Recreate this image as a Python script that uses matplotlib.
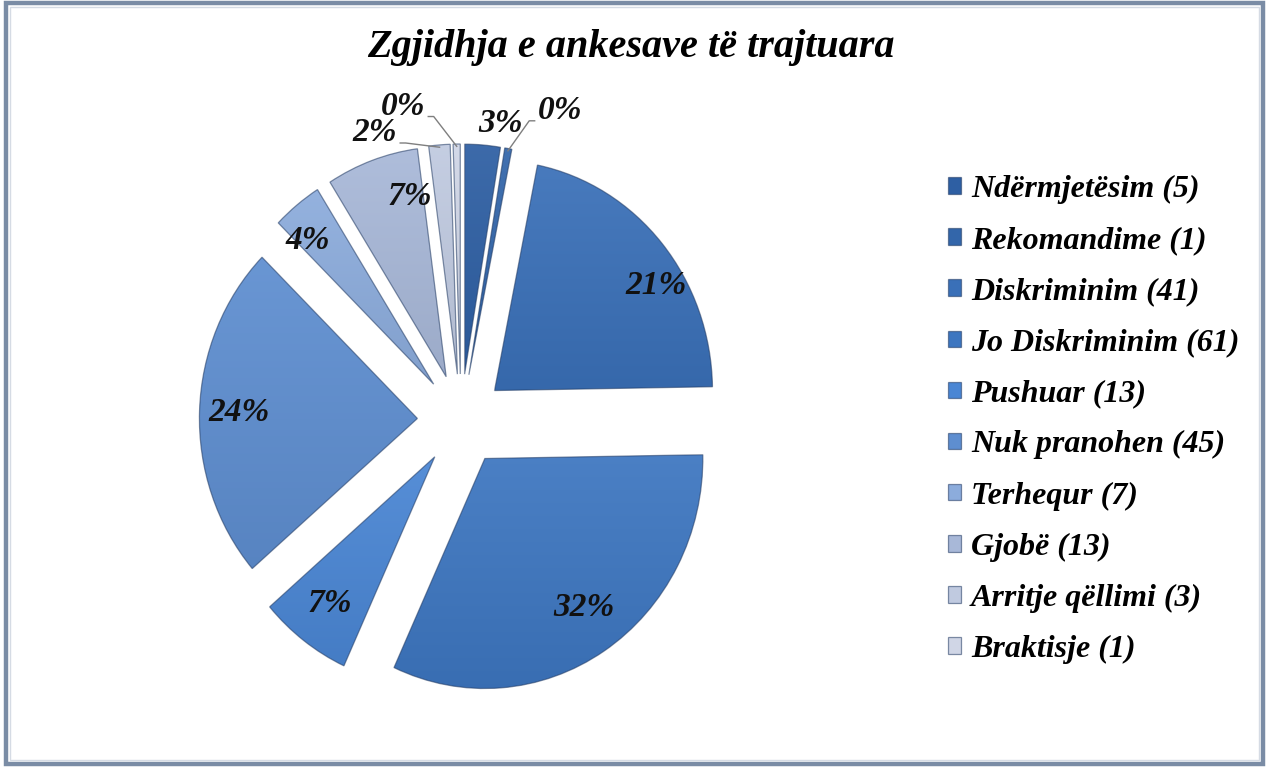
import numpy as np
import matplotlib
matplotlib.use("Agg")
import matplotlib.pyplot as plt
from matplotlib.patches import Rectangle
from matplotlib.colors import to_rgb

plt.rcParams['font.family'] = ['Liberation Serif', 'DejaVu Serif']

# data
categories = ['Ndërmjetësim', 'Rekomandime', 'Diskriminim', 'Jo Diskriminim',
              'Pushuar', 'Nuk pranohen', 'Terhequr', 'Gjobë',
              'Arritje qëllimi', 'Braktisje']
counts = [5, 1, 41, 61, 13, 45, 7, 13, 3, 1]
pct_labels = ['3%', '0%', '21%', '32%', '7%', '24%', '4%', '7%', '2%', '0%']
colors = ['#2E5FA3', '#3366AA', '#3A70B8', '#3D76C0', '#4A86D4',
          '#5E8ED0', '#8CACDC', '#A8B8D8', '#C0CAE0', '#D0D6E6']
legend_labels = [f'{c} ({n})' for c, n in zip(categories, counts)]

explode_frac = 0.2
# label placement: inner labels (radius, angle nudge), outer ones (angle, radius)
inner_pos = {2: (0.87, -8), 3: (0.79, 2), 4: (0.80, 0), 5: (0.82, 0),
             6: (0.85, 4), 7: (0.80, -8)}
outer_pos = {0: (82, 1.30), 1: (71.4, 1.42), 8: (107.5, 1.31), 9: (101, 1.39)}
leaders = [1, 8, 9]

W, H = 1268, 767
fig = plt.figure(figsize=(W / 100, H / 100), dpi=100)

# pie axes: centre at (461, 420) px, 218 px per unit in x, 230 in y
cx, cy, sx, sy = 461, 420, 218, 230
x0, x1, y0, y1 = -2.0, 2.0, -1.5, 1.7
ax = fig.add_axes([(cx + x0 * sx) / W, (H - cy + y0 * sy) / H,
                   (x1 - x0) * sx / W, (y1 - y0) * sy / H])

edge = (0.12, 0.22, 0.38, 0.55)
wedges, _ = ax.pie(counts, colors=colors, startangle=90, counterclock=False,
                   explode=[explode_frac] * len(counts),
                   wedgeprops=dict(edgecolor=edge, linewidth=0.9))

# legend before the wedges get their gradient fill
fig.legend(wedges, legend_labels, loc='upper left',
           bbox_to_anchor=(948 / W, 1 - 175 / H), frameon=False,
           prop=dict(size=23, weight='bold', style='italic'),
           handlelength=0.42, handleheight=0.42, handletextpad=0.3,
           labelspacing=0.69, borderpad=0, borderaxespad=0)

# soft vertical gradient inside each slice
for w, c in zip(wedges, colors):
    base = np.array(to_rgb(c))
    top = base + (1 - base) * 0.07
    bot = base * 0.93
    t = np.linspace(0, 1, 64)[:, None]
    grad = (top * (1 - t) + bot * t)[:, None, :]
    ext = w.get_path().get_extents()
    im = ax.imshow(grad, extent=[ext.x0, ext.x1, ext.y0, ext.y1],
                   aspect='auto', origin='upper', zorder=1, interpolation='bilinear')
    im.set_clip_path(w)
    w.set_facecolor('none')
    w.set_zorder(2)

ax.set_aspect('auto')
ax.set_xlim(x0, x1)
ax.set_ylim(y0, y1)
ax.axis('off')

txt_kw = dict(fontsize=24, fontweight='bold', fontstyle='italic', color='#111111', zorder=4)
for i, w in enumerate(wedges):
    mid = np.deg2rad((w.theta1 + w.theta2) / 2)
    ox, oy = w.center
    if i in inner_pos:
        r, nudge = inner_pos[i]
        a = mid + np.deg2rad(nudge)
        ax.text(ox + r * np.cos(a), oy + r * np.sin(a), pct_labels[i],
                ha='center', va='center', **txt_kw)
    else:
        a, r = outer_pos[i]
        a = np.deg2rad(a)
        tx, ty = r * np.cos(a), r * np.sin(a)
        ax.text(tx, ty, pct_labels[i], ha='center', va='center', **txt_kw)
        if i in leaders:
            tipx = ox + 0.99 * np.cos(mid)
            tipy = oy + 0.99 * np.sin(mid)
            side = 1 if tx > tipx else -1
            lx = tx - side * 0.115
            ly = ty - 0.045
            ex = lx - side * 0.025
            ax.plot([lx, ex, tipx], [ly, ly, tipy], color='#7F7F7F', lw=1.0, zorder=3)

fig.text(631 / W, 1 - 48 / H, 'Zgjidhja e ankesave të trajtuara',
         ha='center', va='center', fontsize=29, fontweight='bold', fontstyle='italic')

# outer frame
fig.patches.append(Rectangle((6 / W, 3 / H), (1263 - 6) / W, (764 - 3) / H,
                             transform=fig.transFigure, fill=False,
                             edgecolor='#7A8CA5', linewidth=3.2))
fig.patches.append(Rectangle((10 / W, 7 / H), (1259 - 10) / W, (760 - 7) / H,
                             transform=fig.transFigure, fill=False,
                             edgecolor='#D5DBE4', linewidth=1.0))

fig.savefig('out.png', dpi=100)
